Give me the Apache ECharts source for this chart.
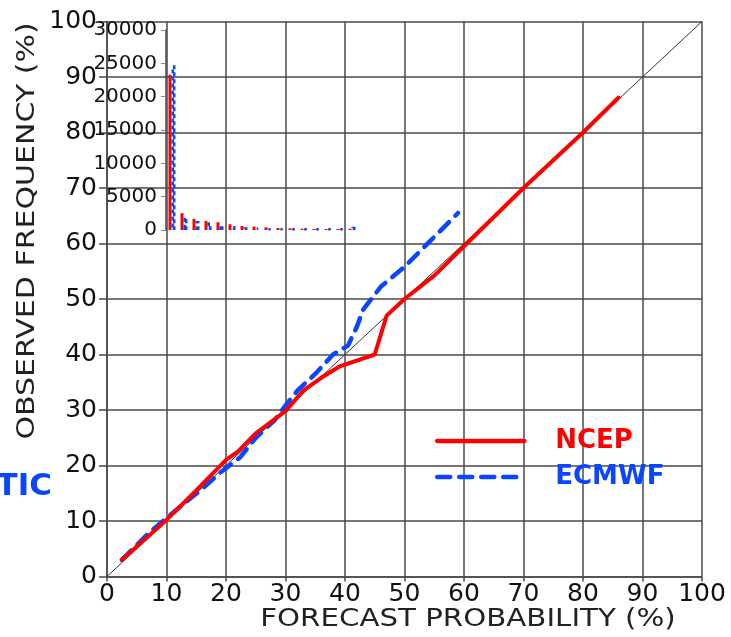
<!DOCTYPE html>
<html>
<head>
<meta charset="utf-8">
<script src="https://cdn.jsdelivr.net/npm/echarts@6/dist/echarts.min.js"></script>
<style>
  html, body { margin: 0; padding: 0; background: #fff; }
  #main { width: 731px; height: 637px; }
</style>
</head>
<body>
<div id="main"></div>
<script>
// reliability curves (forecast probability %, observed frequency %)
const ncepProb = [2.5, 10, 15, 20, 22, 25, 30, 33, 36, 39, 45, 47, 50, 55, 60, 70, 80, 86];
const ncepFreq = [3, 10.2, 15.5, 21, 22.5, 25.8, 29.8, 33.5, 35.8, 37.8, 40, 47, 50, 54.2, 59.5, 70, 80, 86.3];
const ecmwfProb = [2.5, 7, 12, 16, 19, 22.4, 25, 28.2, 30.5, 32, 35, 38, 40.5, 42, 43, 46, 50, 54, 59];
const ecmwfFreq = [3, 7.8, 12.3, 15.8, 18.7, 21.5, 25, 28.2, 31.5, 33.5, 36.5, 40, 41.6, 45, 48, 52.2, 55.8, 60.1, 65.5];
const diagProb = [0, 100];

// sharpness histogram (inset): number of forecasts per probability bin
const histBins = ['0', '1', '2', '3', '4', '5', '6', '7', '8', '9', '10', '11', '12', '13', '14', '15'];
const ncepCounts = [23300, 2530, 1670, 1360, 1160, 860, 600, 500, 400, 300, 250, 200, 150, 150, 150, 200];
const ecmwfCounts = [24700, 2020, 1360, 1160, 860, 600, 400, 350, 250, 250, 200, 200, 200, 200, 200, 500];

const RED = '#ff0000';
const BLUE = '#0a46ff';
const GRIDC = '#4a4a4a';

const chart = echarts.init(document.getElementById('main'));

const option = {
  backgroundColor: '#fff',
  animation: false,
  grid: [
    { left: 107, right: 29, top: 21.5, bottom: 60.5 },
    { left: 166, top: 30, width: 192, height: 200 }
  ],
  xAxis: [
    {
      type: 'value', gridIndex: 0, min: 0, max: 100, interval: 10,
      axisLine: { lineStyle: { color: GRIDC, width: 1.5 } },
      axisTick: { show: true, length: 5, lineStyle: { color: GRIDC, width: 1.5 } },
      axisLabel: { fontFamily: 'DejaVu Sans', fontSize: 25, color: '#111', margin: 5 },
      splitLine: { lineStyle: { color: GRIDC, width: 1.5 } }
    },
    {
      type: 'category', gridIndex: 1, data: histBins,
      axisLine: { show: false }, axisTick: { show: false },
      axisLabel: { show: false }, splitLine: { show: false }
    }
  ],
  yAxis: [
    {
      type: 'value', gridIndex: 0, min: 0, max: 100, interval: 10,
      axisLine: { lineStyle: { color: GRIDC, width: 1.5 } },
      axisTick: { show: true, length: 8, lineStyle: { color: GRIDC, width: 1.5 } },
      axisLabel: { fontFamily: 'DejaVu Sans', fontSize: 25, color: '#111', margin: 10 },
      splitLine: { lineStyle: { color: GRIDC, width: 1.5 } }
    },
    {
      type: 'value', gridIndex: 1, min: 0, max: 30000, interval: 5000,
      axisLine: { show: true, lineStyle: { color: GRIDC, width: 1.5 } },
      axisTick: { show: true, length: 5, lineStyle: { color: '#888', width: 1 } },
      axisLabel: { fontFamily: 'DejaVu Sans', fontSize: 20, color: '#111', margin: 9, formatter: v => String(v) },
      splitLine: { show: false }
    }
  ],
  legend: {
    orient: 'vertical',
    left: 435, top: 428, padding: 0,
    itemWidth: 87, itemHeight: 22, itemGap: 10,
    itemStyle: { opacity: 0 },
    lineStyle: { width: 4.5 },
    textStyle: { fontFamily: 'DejaVu Sans', fontWeight: 'bold', fontSize: 26, padding: [0, 0, 0, 26] },
    data: [
      { name: 'NCEP', textStyle: { color: RED } },
      { name: 'ECMWF', textStyle: { color: BLUE } }
    ]
  },
  graphic: [
    {
      type: 'text', x: 468, y: 620, scaleX: 1.22,
      style: { text: 'FORECAST PROBABILITY (%)', fontFamily: 'DejaVu Sans', fontSize: 24, fill: '#222', align: 'center', verticalAlign: 'middle' }
    },
    {
      type: 'text', x: 28, y: 231, rotation: Math.PI / 2, scaleX: 1.25,
      style: { text: 'OBSERVED FREQUENCY (%)', fontFamily: 'DejaVu Sans', fontSize: 24, fill: '#222', align: 'center', verticalAlign: 'middle' }
    },
    {
      type: 'text', x: 52, y: 487,
      style: { text: 'TIC', fontFamily: 'DejaVu Sans', fontWeight: 'bold', fontSize: 31, fill: BLUE, align: 'right', verticalAlign: 'middle' }
    }
  ],
  series: [
    {
      name: 'diag', type: 'line', xAxisIndex: 0, yAxisIndex: 0,
      data: diagProb.map(v => [v, v]),
      symbol: 'none', silent: true,
      lineStyle: { color: '#333', width: 1 }, z: 3
    },
    {
      name: 'NCEP', type: 'line', xAxisIndex: 0, yAxisIndex: 0,
      data: ncepProb.map((p, i) => [p, ncepFreq[i]]),
      symbol: 'none', itemStyle: { color: RED },
      lineStyle: { color: RED, width: 4, cap: 'round', join: 'round' }, z: 5
    },
    {
      name: 'ECMWF', type: 'line', xAxisIndex: 0, yAxisIndex: 0,
      data: ecmwfProb.map((p, i) => [p, ecmwfFreq[i]]),
      symbol: 'none', itemStyle: { color: BLUE },
      lineStyle: { color: BLUE, width: 4.5, type: [13, 9], cap: 'round', join: 'round' }, z: 4
    },
    {
      name: 'ncepHist', type: 'bar', xAxisIndex: 1, yAxisIndex: 1,
      data: ncepCounts, barWidth: 3, barGap: '0%',
      itemStyle: { color: RED }, z: 6
    },
    {
      name: 'ecmwfHist', type: 'bar', xAxisIndex: 1, yAxisIndex: 1,
      data: ecmwfCounts, barWidth: 4,
      itemStyle: { color: 'rgba(255,255,255,0)', borderColor: BLUE, borderWidth: 2.5, borderType: [4, 3] }, z: 6
    }
  ]
};

chart.setOption(option);
</script>
</body>
</html>
